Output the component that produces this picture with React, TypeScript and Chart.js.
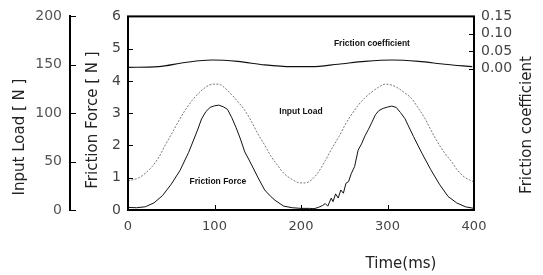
import React, { useEffect, useRef } from "react";
import { Chart, registerables } from "chart.js";

Chart.register(...registerables);

// ---- data ----
const forceTime = [0, 10, 20, 30, 40, 50, 60, 70, 80, 85, 90, 95, 100, 105, 110, 115, 120, 125, 130, 135, 140, 147, 150, 158, 165, 170, 180, 190, 200, 210, 215, 220, 225, 228, 231, 235, 237, 240, 243, 246, 249, 252, 255, 258, 262, 266, 270, 274, 278, 282, 286, 290, 295, 300, 305, 310, 315, 320, 330, 340, 350, 360, 370, 380, 390, 400];
const forceValues = [0.08, 0.07, 0.1, 0.22, 0.45, 0.8, 1.22, 1.78, 2.45, 2.82, 3.05, 3.18, 3.23, 3.25, 3.2, 3.12, 2.86, 2.55, 2.2, 1.8, 1.55, 1.18, 1.02, 0.62, 0.42, 0.3, 0.12, 0.07, 0.05, 0.05, 0.04, 0.08, 0.14, 0.2, 0.12, 0.37, 0.26, 0.5, 0.37, 0.62, 0.52, 0.83, 0.88, 1.12, 1.35, 1.85, 2.05, 2.3, 2.5, 2.72, 2.95, 3.08, 3.15, 3.19, 3.22, 3.18, 3.02, 2.84, 2.28, 1.75, 1.25, 0.8, 0.42, 0.22, 0.1, 0.05];

const loadTime = [0, 12, 20, 28, 36, 43, 50, 58, 66, 74, 82, 90, 98, 105, 112, 120, 125, 135, 143, 150, 158, 165, 173, 180, 189, 199, 205, 212, 220, 228, 236, 244, 251, 258, 266, 274, 282, 290, 297, 305, 312, 320, 328, 335, 343, 350, 358, 366, 374, 381, 389, 395, 400];
const loadValues = [30, 33, 38, 45, 55, 67, 78, 91, 103, 113, 121, 127, 130, 130, 126, 119, 114, 103, 91, 79, 67, 56, 46, 38, 32, 28, 28, 31, 39, 51, 64, 76, 88, 98, 108, 116, 122, 127, 130, 129, 126, 121, 115, 106, 95, 83, 70, 59, 50, 41, 34, 31, 29];

const coefTime = [0, 35, 66, 97, 127, 158, 189, 212, 243, 274, 305, 336, 366, 398];
const coefValues = [0.004, 0.006, 0.018, 0.025, 0.021, 0.011, 0.006, 0.006, 0.013, 0.021, 0.025, 0.021, 0.013, 0.006];

const timeTicks = [0, 100, 200, 300, 400];
const forceTicks = [0, 1, 2, 3, 4, 5, 6];
const loadTicks = [0, 50, 100, 150, 200];
const coefTicks = [0, 0.05, 0.1, 0.15];

const xTitle = "Time(ms)";
const loadTitle = "Input Load [ N ]";
const forceTitle = "Friction Force [ N ]";
const coefTitle = "Friction coefficient";

const annotations = [
  { text: "Friction coefficient", t: 282, f: 5.17 },
  { text: "Input Load", t: 200, f: 3.06 },
  { text: "Friction Force", t: 104, f: 0.87 },
];

const toPoints = (xs: number[], ys: number[]) => xs.map((x, i) => ({ x, y: ys[i] }));

const TICK_FONT = { family: "DejaVu Sans", size: 13 };
const TEXT_COLOR = "#444";

const decorPlugin = {
  id: "decor",
  afterDraw(chart: any) {
    const { ctx, chartArea, scales } = chart;
    const { left, right, top, bottom } = chartArea;
    ctx.save();
    // frame
    ctx.strokeStyle = "#000";
    ctx.lineWidth = 2;
    ctx.strokeRect(left, top, right - left, bottom - top);

    // inward tick marks
    ctx.lineWidth = 1;
    ctx.beginPath();
    timeTicks.slice(1, -1).forEach((v) => {
      const px = Math.round(scales.x.getPixelForValue(v)) + 0.5;
      ctx.moveTo(px, bottom);
      ctx.lineTo(px, bottom - 5);
    });
    forceTicks.slice(1, -1).forEach((v) => {
      const py = Math.round(scales.yF.getPixelForValue(v)) + 0.5;
      ctx.moveTo(left, py);
      ctx.lineTo(left + 5, py);
    });
    coefTicks.slice(0, -1).forEach((v) => {
      const py = Math.round(scales.yC.getPixelForValue(v)) + 0.5;
      ctx.moveTo(right, py);
      ctx.lineTo(right - 5, py);
    });
    const loadX = scales.yL.right;
    loadTicks.forEach((v) => {
      const py = Math.round(scales.yL.getPixelForValue(v)) + 0.5;
      ctx.moveTo(loadX, py);
      ctx.lineTo(loadX + 6, py);
    });
    ctx.stroke();

    // titles
    ctx.fillStyle = "#222";
    ctx.font = "15px 'DejaVu Sans'";
    ctx.textAlign = "center";
    ctx.textBaseline = "middle";
    ctx.fillText(xTitle, 401, 264);
    const rot = (text: string, x: number, y: number) => {
      ctx.save();
      ctx.translate(x, y);
      ctx.rotate(-Math.PI / 2);
      ctx.fillText(text, 0, 0);
      ctx.restore();
    };
    rot(loadTitle, 20, 137);
    rot(forceTitle, 93, 120);
    rot(coefTitle, 527, 125);

    // in-plot labels
    ctx.font = "bold 8.5px 'Liberation Sans'";
    ctx.fillStyle = "#111";
    annotations.forEach((a) => {
      ctx.fillText(a.text, scales.x.getPixelForValue(a.t), scales.yF.getPixelForValue(a.f));
    });
    ctx.restore();
  },
};

export default function App() {
  const ref = useRef<HTMLCanvasElement | null>(null);
  useEffect(() => {
    document.body.style.margin = "0";
    const canvas = ref.current!;
    const chart = new Chart(canvas, {
      type: "line",
      data: {
        datasets: [
          {
            label: "Input Load",
            data: toPoints(loadTime, loadValues),
            yAxisID: "yL",
            borderColor: "#777",
            borderWidth: 1,
            borderDash: [2, 1.5],
            pointRadius: 0,
            cubicInterpolationMode: "monotone",
          },
          {
            label: "Friction Force",
            data: toPoints(forceTime, forceValues),
            yAxisID: "yF",
            borderColor: "#111",
            borderWidth: 1,
            pointRadius: 0,
            tension: 0,
          },
          {
            label: "Friction coefficient",
            data: toPoints(coefTime, coefValues),
            yAxisID: "yC",
            borderColor: "#111",
            borderWidth: 1.1,
            pointRadius: 0,
            cubicInterpolationMode: "monotone",
          },
        ],
      },
      options: {
        animation: false,
        responsive: false,
        devicePixelRatio: 1,
        layout: { padding: { top: 16, left: 0, right: 0, bottom: 0 } },
        plugins: { legend: { display: false }, tooltip: { enabled: false } },
        scales: {
          x: {
            type: "linear",
            min: 0,
            max: 400,
            afterBuildTicks: (s: any) => { s.ticks = timeTicks.map((v) => ({ value: v })); },
            ticks: { font: TICK_FONT, color: TEXT_COLOR, padding: 9, maxRotation: 0 },
            grid: { display: false, drawTicks: false },
            border: { display: false },
            afterFit: (s: any) => { s.height = 65; },
          },
          yF: {
            type: "linear",
            position: "left",
            weight: 0,
            min: 0,
            max: 6,
            afterBuildTicks: (s: any) => { s.ticks = forceTicks.map((v) => ({ value: v })); },
            ticks: { font: { family: "DejaVu Sans", size: 14 }, color: TEXT_COLOR, padding: 7 },
            grid: { display: false, drawTicks: false },
            border: { display: false },
            afterFit: (s: any) => { s.width = 58; },
          },
          yL: {
            type: "linear",
            position: "left",
            weight: 1,
            min: 0,
            max: 200,
            afterBuildTicks: (s: any) => { s.ticks = loadTicks.map((v) => ({ value: v })); },
            ticks: { font: { family: "DejaVu Sans", size: 14 }, color: "#555", padding: 8 },
            grid: { display: false, drawTicks: false },
            border: { display: true, color: "#000", width: 2 },
            afterFit: (s: any) => { s.width = 70; },
          },
          yC: {
            type: "linear",
            position: "right",
            min: -0.405,
            max: 0.15,
            afterBuildTicks: (s: any) => { s.ticks = coefTicks.map((v) => ({ value: v })); },
            ticks: {
              font: { family: "DejaVu Sans", size: 14 },
              color: TEXT_COLOR,
              padding: 7,
              callback: (v: any) => Number(v).toFixed(2),
            },
            grid: { display: false, drawTicks: false },
            border: { display: false },
            afterFit: (s: any) => { s.width = 69; },
          },
        },
      },
      plugins: [decorPlugin],
    } as any);
    return () => chart.destroy();
  }, []);
  return (
    <div style={{ width: 543, height: 275, background: "#fff" }}>
      <canvas ref={ref} width={543} height={275} style={{ display: "block" }} />
    </div>
  );
}
